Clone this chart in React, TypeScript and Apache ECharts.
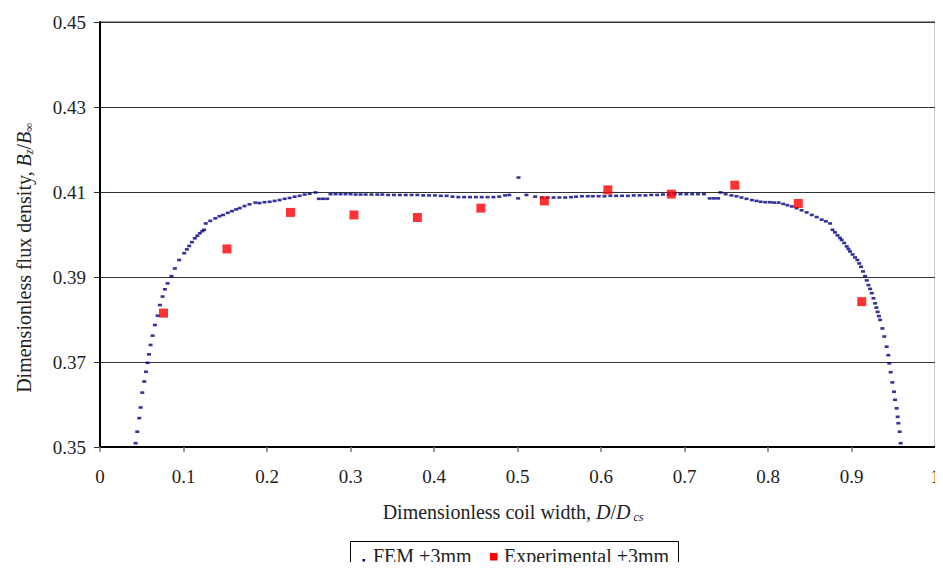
import React, { useEffect, useRef } from "react";
import * as echarts from "echarts";

const FEM_X = [
  0.0426, 0.0446, 0.047, 0.0486, 0.0506, 0.053, 0.055, 0.057, 0.0586, 0.0605,
  0.063, 0.0657, 0.069, 0.0717, 0.0749, 0.0777, 0.0809, 0.0856, 0.0896, 0.0948,
  0.1008, 0.104, 0.1068, 0.11, 0.1135, 0.1165, 0.1195, 0.1225, 0.1247,
  0.1266, 0.132, 0.138, 0.143, 0.1474, 0.153, 0.158, 0.163, 0.1673, 0.173,
  0.179, 0.186, 0.191, 0.197, 0.2031, 0.209, 0.215, 0.221, 0.227, 0.233,
  0.239, 0.245, 0.251, 0.258,
  0.262, 0.267, 0.272,
  0.276, 0.282, 0.288, 0.294, 0.3, 0.306, 0.312, 0.318, 0.325, 0.332, 0.338,
  0.345, 0.352, 0.359, 0.366, 0.373, 0.38, 0.387, 0.394, 0.401, 0.408, 0.415,
  0.422, 0.429, 0.436, 0.443, 0.45, 0.457, 0.464, 0.471, 0.478,
  0.485, 0.49, 0.5006, 0.501, 0.5105, 0.521, 0.529, 0.536, 0.543, 0.55, 0.557,
  0.564, 0.57, 0.577, 0.584, 0.59, 0.597, 0.604, 0.611, 0.618, 0.625, 0.632,
  0.639, 0.646, 0.653, 0.66, 0.667, 0.674, 0.681, 0.688, 0.695, 0.702, 0.709,
  0.716, 0.723,
  0.73, 0.735, 0.74,
  0.743, 0.749, 0.756, 0.762, 0.768, 0.774, 0.7805, 0.786, 0.791, 0.7965,
  0.802, 0.807, 0.8124, 0.818, 0.823, 0.8283, 0.834, 0.84, 0.846, 0.8522,
  0.858, 0.864, 0.869, 0.8741,
  0.877, 0.88, 0.883, 0.886, 0.888, 0.891, 0.894, 0.896, 0.898, 0.901, 0.904,
  0.9068, 0.909, 0.9112, 0.9135, 0.916, 0.918, 0.92, 0.922, 0.924, 0.926,
  0.928, 0.9295, 0.931, 0.9325, 0.934, 0.9367, 0.939, 0.9418, 0.9438, 0.945,
  0.9466, 0.9486, 0.9506, 0.9518, 0.9538, 0.955, 0.9558, 0.9574, 0.9586,
];

const FEM_Y = [
  0.3509, 0.3536, 0.3568, 0.3593, 0.3628, 0.3654, 0.3677, 0.3698, 0.3718, 0.374,
  0.3762, 0.3787, 0.3809, 0.3834, 0.3854, 0.3871, 0.3885, 0.3902, 0.392, 0.394,
  0.3956, 0.3965, 0.3973, 0.3982, 0.3991, 0.3997, 0.4003, 0.4008, 0.4011,
  0.4026, 0.4032, 0.4038, 0.4043, 0.4046, 0.4051, 0.4055, 0.4059, 0.4062, 0.4067,
  0.4071, 0.4075, 0.4074, 0.4076, 0.4077, 0.4079, 0.4081, 0.4084, 0.4086, 0.4089,
  0.4091, 0.4094, 0.4096, 0.4099,
  0.4084, 0.4084, 0.4084,
  0.4095, 0.4095, 0.4095, 0.4095, 0.4095, 0.4094, 0.4094, 0.4094, 0.4094, 0.4094, 0.4094,
  0.4093, 0.4093, 0.4093, 0.4093, 0.4093, 0.4093, 0.4092, 0.4092, 0.4092, 0.4091, 0.4091,
  0.4089, 0.4088, 0.4088, 0.4088, 0.4088, 0.4088, 0.4088, 0.4088, 0.4089,
  0.4092, 0.4093, 0.4085, 0.4134, 0.4093, 0.4089, 0.4087, 0.4087, 0.4087, 0.4087, 0.4087,
  0.4088, 0.4089, 0.409, 0.409, 0.409, 0.409, 0.409, 0.4091, 0.4091, 0.4091, 0.4091,
  0.4092, 0.4092, 0.4092, 0.4093, 0.4093, 0.4094, 0.4094, 0.4095, 0.4095, 0.4095, 0.4095,
  0.4095, 0.4095,
  0.4085, 0.4085, 0.4085,
  0.4099, 0.4095, 0.4092, 0.409, 0.4087, 0.4084, 0.4081, 0.4079, 0.4077, 0.4076,
  0.4076, 0.4075, 0.4075, 0.4072, 0.4069, 0.4066, 0.4062, 0.4057, 0.4052, 0.4046,
  0.4041, 0.4035, 0.4031, 0.4026,
  0.4011, 0.4005, 0.3998, 0.3992, 0.3987, 0.398, 0.3972, 0.3966, 0.396, 0.3953, 0.3946,
  0.394, 0.3932, 0.3924, 0.3913, 0.3902, 0.3892, 0.3881, 0.3872, 0.3862, 0.385,
  0.3838, 0.3828, 0.3818, 0.3808, 0.3799, 0.3779, 0.376, 0.3736, 0.3716, 0.3697,
  0.3676, 0.3652, 0.363, 0.3611, 0.3591, 0.3571, 0.3556, 0.3536, 0.3509,
];

const EXP_X = [0.076, 0.152, 0.228, 0.304, 0.38, 0.456, 0.532, 0.608, 0.684, 0.76, 0.836, 0.912];
const EXP_Y = [0.3815, 0.3966, 0.4052, 0.4046, 0.404, 0.4062, 0.4079, 0.4105, 0.4095, 0.4116, 0.4073, 0.3842];

const SERIES_NAMES = ["FEM +3mm", "Experimental +3mm"];

const FONT = '"Liberation Serif", "Times New Roman", "DejaVu Serif", serif';

export default function App() {
  const ref = useRef<HTMLDivElement>(null);

  useEffect(() => {
    if (!ref.current) return;
    const chart = echarts.init(ref.current, undefined, { renderer: "svg" });
    const femData = FEM_X.map((x, i) => [x, FEM_Y[i]]);
    const expData = EXP_X.map((x, i) => [x, EXP_Y[i]]);

    chart.setOption({
      animation: false,
      backgroundColor: "#ffffff",
      grid: {
        left: 100,
        right: 6,
        top: 22,
        bottom: 123,
        show: true,
        borderColor: "#333",
        borderWidth: 1,
        backgroundColor: "transparent",
      },
      xAxis: {
        type: "value",
        min: 0,
        max: 1,
        interval: 0.1,
        axisLine: { show: true, onZero: false, lineStyle: { color: "#000", width: 2 } },
        axisTick: { show: true, inside: false, length: 5, lineStyle: { color: "#777", width: 1.5 } },
        splitLine: { show: false },
        axisLabel: {
          margin: 20,
          color: "#222",
          fontFamily: FONT,
          fontSize: 19,
          formatter: (v: number) => (v === 0 ? "0" : v === 1 ? "1" : v.toFixed(1)),
        },
      },
      yAxis: {
        type: "value",
        min: 0.35,
        max: 0.45,
        interval: 0.02,
        axisLine: { show: true, onZero: false, lineStyle: { color: "#000", width: 2 } },
        axisTick: { show: true, inside: false, length: 6, lineStyle: { color: "#333", width: 1 } },
        splitLine: { show: true, lineStyle: { color: "#333", width: 1 } },
        axisLabel: {
          margin: 14,
          color: "#222",
          fontFamily: FONT,
          fontSize: 19,
          formatter: (v: number) => v.toFixed(2),
        },
      },
      series: [
        {
          name: SERIES_NAMES[0],
          type: "scatter",
          data: femData,
          symbol: "rect",
          symbolSize: [4, 2.6],
          itemStyle: { color: "#000080" },
          z: 3,
        },
        {
          name: SERIES_NAMES[1],
          type: "scatter",
          data: expData,
          symbol: "rect",
          symbolSize: 9,
          itemStyle: { color: "#ff0000" },
          z: 4,
        },
      ],
      graphic: [
        {
          type: "text",
          x: 24,
          y: 258,
          rotation: Math.PI / 2,
          style: {
            text: "Dimensionless flux density, {i|B}{sub|z}{n|/}{i|B}{sub|∞}",
            fontFamily: FONT,
            fontSize: 20,
            fill: "#222",
            align: "center",
            verticalAlign: "middle",
            rich: {
              i: { fontStyle: "italic", fontFamily: FONT, fontSize: 20, fill: "#222" },
              n: { fontFamily: FONT, fontSize: 20, fill: "#222" },
              sub: { fontStyle: "italic", fontFamily: FONT, fontSize: 12, fill: "#222", padding: [10, 0, 0, 0] },
            },
          },
        },
        {
          type: "text",
          x: 513,
          y: 512,
          style: {
            text: "Dimensionless coil width, {i|D}{n|/}{i|D}{sub| cs}",
            fontFamily: FONT,
            fontSize: 20,
            fill: "#222",
            align: "center",
            verticalAlign: "middle",
            rich: {
              i: { fontStyle: "italic", fontFamily: FONT, fontSize: 20, fill: "#222" },
              n: { fontFamily: FONT, fontSize: 20, fill: "#222" },
              sub: { fontStyle: "italic", fontFamily: FONT, fontSize: 12, fill: "#222", padding: [10, 0, 0, 0] },
            },
          },
        },
        {
          type: "rect",
          shape: { x: 350.5, y: 541.5, width: 328, height: 27 },
          style: { fill: "#fff", stroke: "#000", lineWidth: 1 },
        },
        {
          type: "rect",
          shape: { x: 362.5, y: 559, width: 2.5, height: 2.5 },
          style: { fill: "#000080" },
        },
        {
          type: "text",
          x: 373,
          y: 556,
          style: {
            text: SERIES_NAMES[0],
            fontFamily: FONT,
            fontSize: 20,
            fill: "#222",
            align: "left",
            verticalAlign: "middle",
          },
        },
        {
          type: "rect",
          shape: { x: 490, y: 553, width: 7.5, height: 7.5 },
          style: { fill: "#ff0000" },
        },
        {
          type: "text",
          x: 504,
          y: 556,
          style: {
            text: SERIES_NAMES[1],
            fontFamily: FONT,
            fontSize: 20,
            fill: "#222",
            align: "left",
            verticalAlign: "middle",
          },
        },
      ],
    });

    return () => chart.dispose();
  }, []);

  return <div ref={ref} style={{ width: 943, height: 570, margin: -8 }} />;
}
